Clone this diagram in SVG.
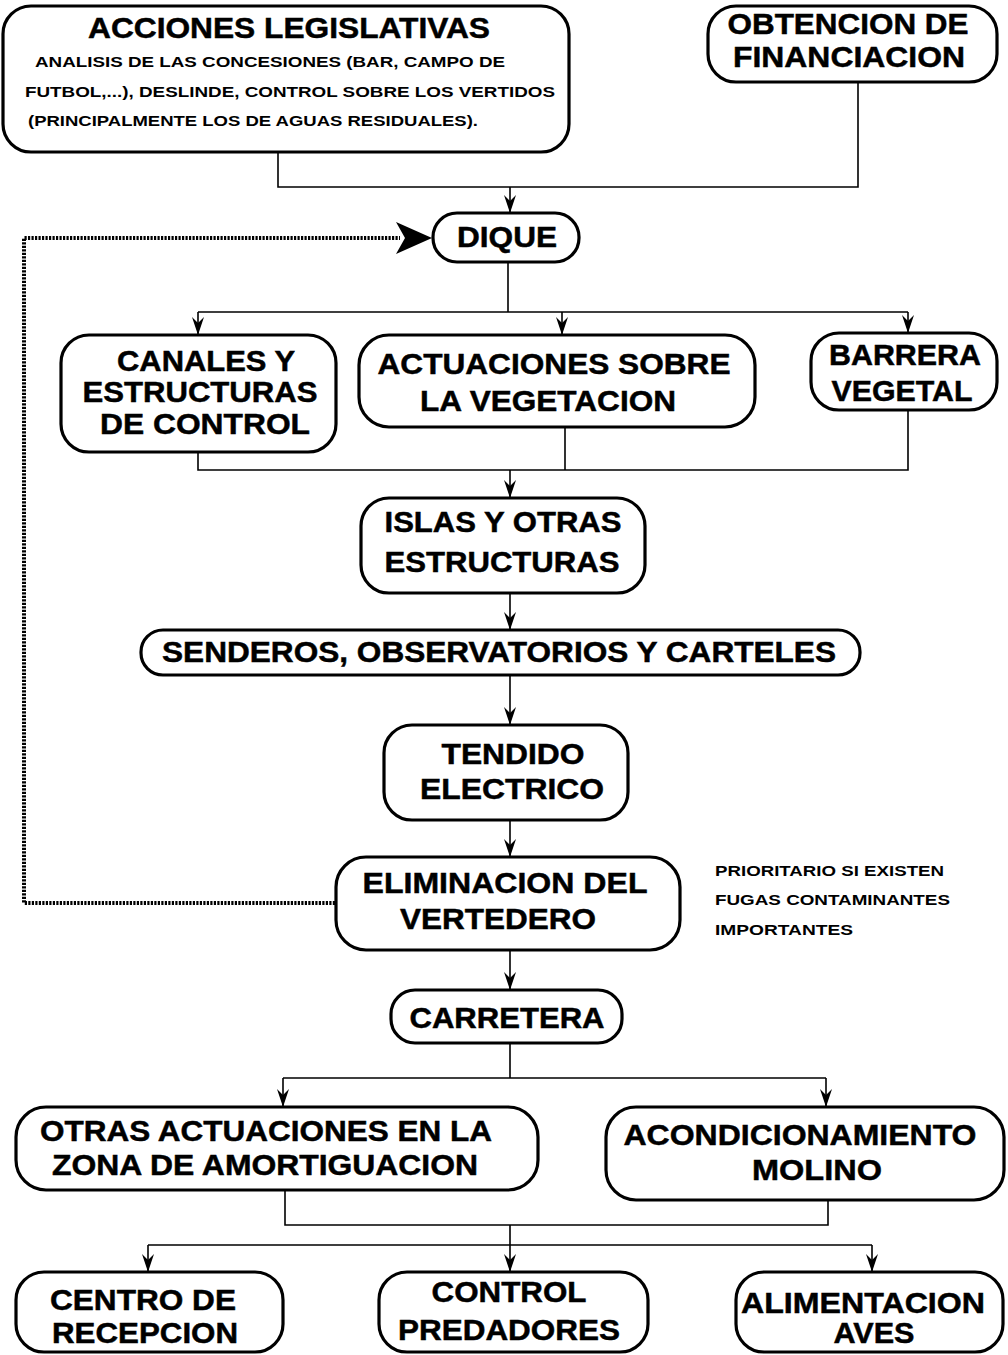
<svg xmlns="http://www.w3.org/2000/svg" width="1008" height="1355" viewBox="0 0 1008 1355">
<defs>
<style>
.box{fill:#fff;stroke:#000;stroke-width:3.2}
.t{font-family:"Liberation Sans",Arial,sans-serif;font-weight:bold;font-size:30px;fill:#000;stroke:#000;stroke-width:0.5;text-anchor:middle}
.s{font-family:"Liberation Sans",Arial,sans-serif;font-weight:bold;font-size:15.5px;fill:#000}
.c{fill:none;stroke:#000;stroke-width:1.6}
.a{fill:none;stroke:#000;stroke-width:1.6;marker-end:url(#ah)}
.d{fill:none;stroke:#000;stroke-width:4;stroke-dasharray:2.2 1.3}
</style>
<marker id="ah" viewBox="0 0 18 12" refX="18" refY="6" markerWidth="18" markerHeight="12" markerUnits="userSpaceOnUse" orient="auto">
<path d="M0,0 L18,6 L0,12 L6,6 Z" fill="#000"/>
</marker>
</defs>
<rect width="1008" height="1355" fill="#fff"/>

<g id="connectors">
<path class="c" d="M278,152 V187 H858 V82"/>
<path class="a" d="M510,187 V213"/>
<path class="c" d="M508,262 V312 M198,312 H908"/>
<path class="a" d="M198,312 V335"/>
<path class="a" d="M562,312 V335"/>
<path class="a" d="M908,312 V333"/>
<path class="c" d="M198,452 V470 H908 V410 M565,427 V470"/>
<path class="a" d="M510,470 V498"/>
<path class="a" d="M510,593 V630"/>
<path class="a" d="M510,675 V725"/>
<path class="a" d="M510,820 V857"/>
<path class="a" d="M510,950 V990"/>
<path class="c" d="M510,1043 V1078 M283,1078 H826"/>
<path class="a" d="M283,1078 V1107"/>
<path class="a" d="M826,1078 V1107"/>
<path class="c" d="M285,1190 V1225 H828 V1200 M510,1225 V1245 M148,1245 H872"/>
<path class="a" d="M148,1245 V1272"/>
<path class="a" d="M510,1245 V1272"/>
<path class="a" d="M872,1245 V1272"/>
<path class="d" d="M335,903 H24 V238 H400"/>
<path d="M396,222 L432,238 L396,254 L405,238 Z" fill="#000"/>
</g>

<g id="acciones">
<rect class="box" x="3" y="6" width="566" height="146" rx="28"/>
<text class="t" x="289" y="38" textLength="402" lengthAdjust="spacingAndGlyphs">ACCIONES LEGISLATIVAS</text>
<text class="s" x="35" y="67" textLength="470" lengthAdjust="spacingAndGlyphs">ANALISIS DE LAS CONCESIONES (BAR, CAMPO DE</text>
<text class="s" x="25" y="97" textLength="530" lengthAdjust="spacingAndGlyphs">FUTBOL,...), DESLINDE, CONTROL SOBRE LOS VERTIDOS</text>
<text class="s" x="28" y="126" textLength="450" lengthAdjust="spacingAndGlyphs">(PRINCIPALMENTE LOS DE AGUAS RESIDUALES).</text>
</g>

<g id="obtencion">
<rect class="box" x="708" y="6" width="289" height="76" rx="28"/>
<text class="t" x="848" y="34" textLength="241" lengthAdjust="spacingAndGlyphs">OBTENCION DE</text>
<text class="t" x="849" y="67" textLength="232" lengthAdjust="spacingAndGlyphs">FINANCIACION</text>
</g>

<g id="dique">
<rect class="box" x="433" y="213" width="146" height="49" rx="24"/>
<text class="t" x="507" y="247" textLength="100" lengthAdjust="spacingAndGlyphs">DIQUE</text>
</g>

<g id="canales">
<rect class="box" x="61" y="335" width="275" height="117" rx="28"/>
<text class="t" x="206" y="371" textLength="178" lengthAdjust="spacingAndGlyphs">CANALES Y</text>
<text class="t" x="200" y="402" textLength="235" lengthAdjust="spacingAndGlyphs">ESTRUCTURAS</text>
<text class="t" x="205" y="434" textLength="210" lengthAdjust="spacingAndGlyphs">DE CONTROL</text>
</g>

<g id="actuaciones">
<rect class="box" x="359" y="335" width="396" height="92" rx="30"/>
<text class="t" x="554" y="374" textLength="353" lengthAdjust="spacingAndGlyphs">ACTUACIONES SOBRE</text>
<text class="t" x="548" y="411" textLength="256" lengthAdjust="spacingAndGlyphs">LA VEGETACION</text>
</g>

<g id="barrera">
<rect class="box" x="811" y="333" width="186" height="77" rx="28"/>
<text class="t" x="905" y="365" textLength="152" lengthAdjust="spacingAndGlyphs">BARRERA</text>
<text class="t" x="902" y="401" textLength="141" lengthAdjust="spacingAndGlyphs">VEGETAL</text>
</g>

<g id="islas">
<rect class="box" x="361" y="498" width="284" height="95" rx="28"/>
<text class="t" x="503" y="532" textLength="237" lengthAdjust="spacingAndGlyphs">ISLAS Y OTRAS</text>
<text class="t" x="502" y="572" textLength="235" lengthAdjust="spacingAndGlyphs">ESTRUCTURAS</text>
</g>

<g id="senderos">
<rect class="box" x="141" y="630" width="719" height="45" rx="22"/>
<text class="t" x="499" y="662" textLength="674" lengthAdjust="spacingAndGlyphs">SENDEROS, OBSERVATORIOS Y CARTELES</text>
</g>

<g id="tendido">
<rect class="box" x="384" y="725" width="244" height="95" rx="28"/>
<text class="t" x="513" y="764" textLength="143" lengthAdjust="spacingAndGlyphs">TENDIDO</text>
<text class="t" x="512" y="799" textLength="184" lengthAdjust="spacingAndGlyphs">ELECTRICO</text>
</g>

<g id="eliminacion">
<rect class="box" x="336" y="857" width="344" height="93" rx="30"/>
<text class="t" x="505" y="893" textLength="285" lengthAdjust="spacingAndGlyphs">ELIMINACION DEL</text>
<text class="t" x="498" y="929" textLength="196" lengthAdjust="spacingAndGlyphs">VERTEDERO</text>
</g>

<g id="nota">
<text class="s" x="715" y="876" textLength="229" lengthAdjust="spacingAndGlyphs">PRIORITARIO SI EXISTEN</text>
<text class="s" x="715" y="905" textLength="235" lengthAdjust="spacingAndGlyphs">FUGAS CONTAMINANTES</text>
<text class="s" x="715" y="935" textLength="138" lengthAdjust="spacingAndGlyphs">IMPORTANTES</text>
</g>

<g id="carretera">
<rect class="box" x="391" y="990" width="231" height="53" rx="24"/>
<text class="t" x="507" y="1028" textLength="195" lengthAdjust="spacingAndGlyphs">CARRETERA</text>
</g>

<g id="otras">
<rect class="box" x="16" y="1107" width="522" height="83" rx="30"/>
<text class="t" x="266" y="1141" textLength="452" lengthAdjust="spacingAndGlyphs">OTRAS ACTUACIONES EN LA</text>
<text class="t" x="265" y="1175" textLength="426" lengthAdjust="spacingAndGlyphs">ZONA DE AMORTIGUACION</text>
</g>

<g id="acondicionamiento">
<rect class="box" x="606" y="1107" width="398" height="93" rx="30"/>
<text class="t" x="800" y="1145" textLength="353" lengthAdjust="spacingAndGlyphs">ACONDICIONAMIENTO</text>
<text class="t" x="817" y="1180" textLength="130" lengthAdjust="spacingAndGlyphs">MOLINO</text>
</g>

<g id="centro">
<rect class="box" x="16" y="1272" width="267" height="80" rx="28"/>
<text class="t" x="143" y="1310" textLength="186" lengthAdjust="spacingAndGlyphs">CENTRO DE</text>
<text class="t" x="145" y="1343" textLength="186" lengthAdjust="spacingAndGlyphs">RECEPCION</text>
</g>

<g id="control">
<rect class="box" x="379" y="1272" width="269" height="80" rx="28"/>
<text class="t" x="509" y="1302" textLength="155" lengthAdjust="spacingAndGlyphs">CONTROL</text>
<text class="t" x="509" y="1340" textLength="222" lengthAdjust="spacingAndGlyphs">PREDADORES</text>
</g>

<g id="alimentacion">
<rect class="box" x="736" y="1272" width="267" height="80" rx="28"/>
<text class="t" x="863" y="1313" textLength="244" lengthAdjust="spacingAndGlyphs">ALIMENTACION</text>
<text class="t" x="874" y="1343" textLength="81" lengthAdjust="spacingAndGlyphs">AVES</text>
</g>
</svg>
